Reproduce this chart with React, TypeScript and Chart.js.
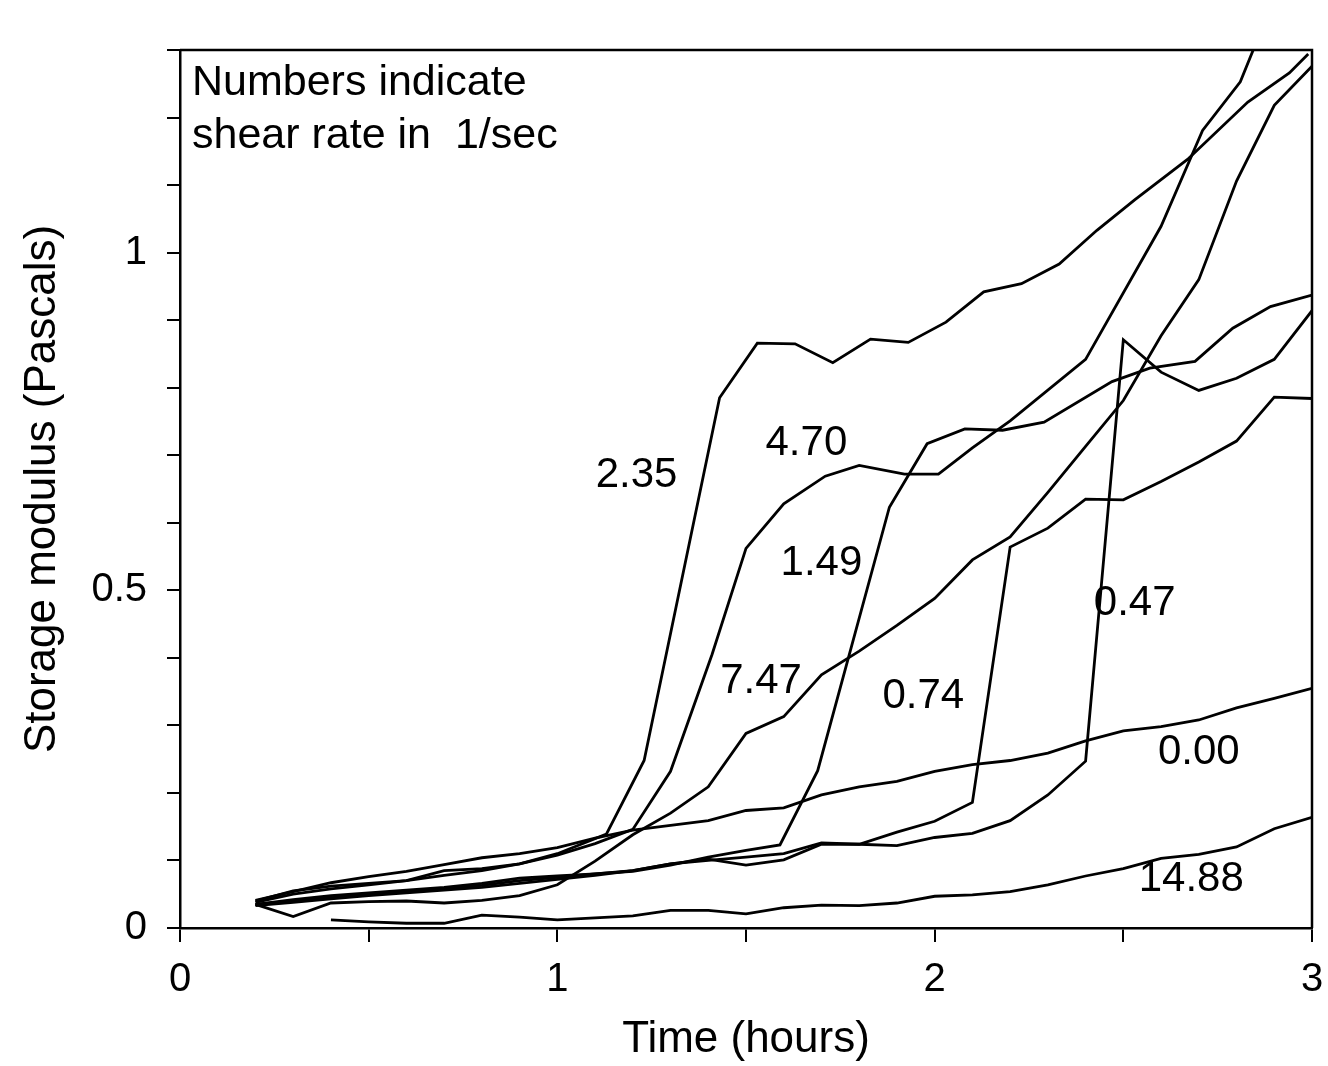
import React, { useEffect, useRef } from 'react';
import { Chart, registerables } from 'chart.js';

Chart.register(...registerables);

const FONT = '"Liberation Sans", Arial, Helvetica, sans-serif';

// ---- data (time in hours, storage modulus in Pascals) ----
const hoursGrid = [0.2, 0.3, 0.4, 0.5, 0.6, 0.7, 0.8, 0.9, 1.0, 1.1, 1.2, 1.3, 1.4, 1.5, 1.6, 1.7, 1.8, 1.9, 2.0, 2.1, 2.2, 2.3, 2.4, 2.5, 2.6, 2.7, 2.8, 2.9, 3.0];

const rate000 = [0.041, 0.054, 0.067, 0.076, 0.084, 0.094, 0.104, 0.110, 0.119, 0.133, 0.145, 0.152, 0.159, 0.174, 0.178, 0.197, 0.209, 0.217, 0.232, 0.242, 0.248, 0.259, 0.277, 0.292, 0.298, 0.308, 0.326, 0.340, 0.355];

const hours1488 = [0.4, 0.5, 0.6, 0.7, 0.8, 0.9, 1.0, 1.1, 1.2, 1.3, 1.4, 1.5, 1.6, 1.7, 1.8, 1.9, 2.0, 2.1, 2.2, 2.3, 2.4, 2.5, 2.6, 2.7, 2.8, 2.9, 3.0];
const rate1488 = [0.012, 0.009, 0.007, 0.007, 0.019, 0.016, 0.012, 0.015, 0.018, 0.026, 0.026, 0.021, 0.030, 0.034, 0.033, 0.037, 0.047, 0.049, 0.054, 0.064, 0.077, 0.088, 0.103, 0.109, 0.120, 0.147, 0.164];

const hours235 = [0.2, 0.3, 0.4, 0.5, 0.6, 0.7, 0.8, 0.9, 1.0, 1.13, 1.23, 1.43, 1.53, 1.63, 1.73, 1.83, 1.93, 2.03, 2.13, 2.23, 2.33, 2.43, 2.53, 2.67, 2.83, 2.94, 2.99];
const rate235 = [0.038, 0.050, 0.058, 0.064, 0.070, 0.078, 0.085, 0.095, 0.110, 0.139, 0.248, 0.785, 0.866, 0.865, 0.837, 0.872, 0.867, 0.897, 0.942, 0.954, 0.983, 1.033, 1.078, 1.138, 1.223, 1.266, 1.294];

const hours470 = [0.2, 0.3, 0.4, 0.5, 0.6, 0.7, 0.8, 0.9, 1.0, 1.1, 1.2, 1.3, 1.41, 1.5, 1.6, 1.71, 1.8, 1.92, 2.01, 2.1, 2.2, 2.4, 2.6, 2.71, 2.81, 2.85];
const rate470 = [0.040, 0.055, 0.062, 0.066, 0.070, 0.085, 0.088, 0.095, 0.108, 0.125, 0.146, 0.232, 0.405, 0.562, 0.628, 0.669, 0.685, 0.672, 0.672, 0.711, 0.751, 0.842, 1.039, 1.181, 1.253, 1.308];

const hours149 = [0.2, 0.3, 0.4, 0.5, 0.6, 0.7, 0.8, 0.9, 1.0, 1.1, 1.2, 1.3, 1.4, 1.5, 1.59, 1.69, 1.88, 1.98, 2.08, 2.18, 2.29, 2.47, 2.57, 2.69, 2.79, 2.89, 3.0];
const rate149 = [0.035, 0.042, 0.048, 0.052, 0.056, 0.060, 0.066, 0.074, 0.077, 0.080, 0.084, 0.093, 0.105, 0.115, 0.123, 0.233, 0.623, 0.717, 0.739, 0.737, 0.749, 0.809, 0.829, 0.839, 0.888, 0.920, 0.937];

const rate747 = [0.035, 0.017, 0.037, 0.039, 0.040, 0.037, 0.041, 0.048, 0.064, 0.099, 0.138, 0.170, 0.209, 0.288, 0.313, 0.375, 0.410, 0.448, 0.488, 0.545, 0.579, 0.645, 0.713, 0.781, 0.877, 0.960, 1.106, 1.218, 1.276];

const rate074 = [0.035, 0.040, 0.045, 0.050, 0.055, 0.058, 0.063, 0.070, 0.075, 0.080, 0.085, 0.095, 0.100, 0.105, 0.110, 0.126, 0.124, 0.142, 0.158, 0.186, 0.564, 0.592, 0.635, 0.634, 0.661, 0.690, 0.721, 0.786, 0.784];

const rate047 = [0.033, 0.038, 0.043, 0.048, 0.052, 0.056, 0.060, 0.066, 0.072, 0.078, 0.085, 0.095, 0.102, 0.093, 0.101, 0.124, 0.124, 0.122, 0.134, 0.140, 0.159, 0.197, 0.247, 0.871, 0.823, 0.796, 0.814, 0.842, 0.914];

// curve labels (shear rate, 1/sec) and where they sit in data space
const curveLabels = ['2.35', '4.70', '1.49', '7.47', '0.74', '0.47', '0.00', '14.88'];
const labelHours = [1.21, 1.66, 1.70, 1.54, 1.97, 2.53, 2.70, 2.68];
const labelModulus = [0.67, 0.718, 0.54, 0.365, 0.343, 0.48, 0.26, 0.072];

const noteLines = ['Numbers indicate', 'shear rate in  1/sec'];

const xTitle = 'Time (hours)';
const yTitle = 'Storage modulus (Pascals)';

const seriesList = [
  { name: '0.00', t: hoursGrid, v: rate000 },
  { name: '14.88', t: hours1488, v: rate1488 },
  { name: '2.35', t: hours235, v: rate235 },
  { name: '4.70', t: hours470, v: rate470 },
  { name: '1.49', t: hours149, v: rate149 },
  { name: '7.47', t: hoursGrid, v: rate747 },
  { name: '0.74', t: hoursGrid, v: rate074 },
  { name: '0.47', t: hoursGrid, v: rate047 },
];

const decorPlugin = {
  id: 'decor',
  afterDatasetsDraw(chart: any) {
    const { ctx, chartArea, scales } = chart;
    const xs = scales.x;
    const ys = scales.y;
    ctx.save();
    ctx.strokeStyle = '#000';
    ctx.lineWidth = 2.5;
    ctx.beginPath();
    ctx.moveTo(chartArea.left, chartArea.top);
    ctx.lineTo(chartArea.right, chartArea.top);
    ctx.lineTo(chartArea.right, chartArea.bottom);
    ctx.stroke();

    ctx.fillStyle = '#000';
    ctx.font = `42px ${FONT}`;
    ctx.textAlign = 'center';
    ctx.textBaseline = 'middle';
    curveLabels.forEach((txt, i) => {
      ctx.fillText(txt, xs.getPixelForValue(labelHours[i]), ys.getPixelForValue(labelModulus[i]));
    });
    ctx.font = `43px ${FONT}`;
    ctx.textAlign = 'left';
    ctx.fillText(noteLines[0], chartArea.left + 12, chartArea.top + 33);
    ctx.fillText(noteLines[1], chartArea.left + 12, chartArea.top + 86);
    ctx.restore();
  },
};

export default function App() {
  const canvasRef = useRef<HTMLCanvasElement | null>(null);

  useEffect(() => {
    const canvas = canvasRef.current;
    if (!canvas) return;
    const datasets = seriesList.map((s) => ({
      label: s.name,
      data: s.t.map((t, i) => ({ x: t, y: s.v[i] })),
      borderColor: '#000',
      backgroundColor: '#000',
      borderWidth: 2.8,
      pointRadius: 0,
      tension: 0,
      fill: false,
    }));

    const chart = new Chart(canvas, {
      type: 'line',
      data: { datasets },
      plugins: [decorPlugin],
      options: {
        animation: false,
        responsive: false,
        devicePixelRatio: 1,
        layout: { padding: { top: 50, right: 16, left: 0, bottom: 0 } },
        plugins: {
          legend: { display: false },
          tooltip: { enabled: false },
        },
        scales: {
          x: {
            type: 'linear',
            min: 0,
            max: 3,
            afterFit: (s: any) => {
              s.height = 138;
              s.paddingRight = 0;
              s.paddingLeft = 0;
            },
            ticks: {
              stepSize: 0.5,
              autoSkip: false,
              maxRotation: 0,
              color: '#000',
              padding: 14,
              font: { family: FONT, size: 40 },
              callback: (v: any) => (Number.isInteger(Number(v)) ? String(v) : ''),
            },
            grid: {
              display: true,
              drawOnChartArea: false,
              drawTicks: true,
              tickLength: 14,
              color: '#000',
              lineWidth: 2,
            },
            border: { display: true, color: '#000', width: 2.5 },
            title: {
              display: true,
              text: xTitle,
              color: '#000',
              font: { family: FONT, size: 44 },
              padding: { top: 0, bottom: 0 },
            },
          },
          y: {
            type: 'linear',
            min: 0,
            max: 1.3,
            afterFit: (s: any) => {
              s.width = 180;
              s.paddingTop = 0;
              s.paddingBottom = 0;
            },
            ticks: {
              stepSize: 0.1,
              autoSkip: false,
              color: '#000',
              padding: 20,
              font: { family: FONT, size: 40 },
              callback: (v: any) => {
                const r = Math.round(Number(v) * 10) / 10;
                const half = r * 2;
                return Math.abs(half - Math.round(half)) < 1e-9 && r <= 1 ? String(r) : '';
              },
            },
            grid: {
              display: true,
              drawOnChartArea: false,
              drawTicks: true,
              tickLength: 13,
              color: '#000',
              lineWidth: 2,
            },
            border: { display: true, color: '#000', width: 2.5 },
            title: {
              display: true,
              text: yTitle,
              color: '#000',
              font: { family: FONT, size: 44 },
              padding: { top: 16, bottom: 0 },
            },
          },
        },
      },
    });
    return () => chart.destroy();
  }, []);

  return (
    <div style={{ position: 'absolute', left: 0, top: 0, width: 1328, height: 1066, background: '#fff' }}>
      <canvas ref={canvasRef} width={1328} height={1066} style={{ display: 'block' }} />
    </div>
  );
}
